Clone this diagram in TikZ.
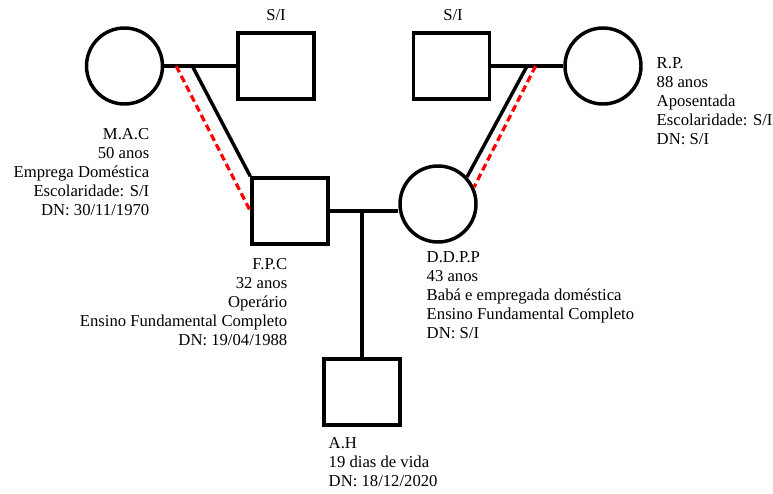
\documentclass[tikz,border=0pt]{standalone}
\usepackage{fontspec}
\setmainfont{Liberation Serif}
\usetikzlibrary{calc}
\begin{document}
\begin{tikzpicture}[x=0.75pt,y=-0.75pt,
  line width=2.6pt,
  male/.style={draw,rectangle,minimum width=57pt,minimum height=49.5pt,inner sep=0pt},
  female/.style={draw,circle,minimum size=57pt,inner sep=0pt},
  info/.style={inner sep=0pt,font=\fontsize{12.5}{14.1}\selectfont},
  conflict/.style={draw=red,line width=2.4pt,dash pattern=on 5.25pt off 3pt}]
\useasboundingbox (0,0) rectangle (773,493);

% grandparents, paternal side
\node[female] (mac) at (124.5,66) {};
\node[male] (si1) at (276,66) {};
% grandparents, maternal side
\node[male] (si2) at (451.5,66) {};
\node[female] (rp) at (603,66) {};
% parents
\node[male] (fpc) at (290,211) {};
\node[female] (ddpp) at (438,204) {};
% child
\node[male] (ah) at (362,392) {};

% couples and the child's line
\draw (mac.east) -- (si1.west);
\draw (si2.east) -- (rp.west);
\draw (fpc.east) -- (fpc.east -| ddpp.west);
\draw (ah.north) -- (ah.north |- fpc.east);

% points on the couple lines where the descent lines start
\coordinate (lpar) at ($(mac.east)!0.39!(si1.west)$);
\coordinate (lred) at ($(mac.east)!0.166!(si1.west)$);
\coordinate (rpar) at ($(si2.east)!0.497!(rp.west)$);
\coordinate (rred) at ($(si2.east)!0.616!(rp.west)$);

% descent lines
\draw (lpar) -- (fpc.north west);
\draw (rpar) -- (ddpp.43);

% conflictual relationships
\draw[conflict] (lred) -- (fpc.west);
\draw[conflict] (rred) -- (ddpp.25);

% labels (multi-line blocks are anchored on the baseline of their last line)
\node[info,anchor=base] (si1lab) at (276,20) {S/I};
\node[info,anchor=base] (si2lab) at (453,20) {S/I};
\node[info,anchor=base east,align=right] (maclab) at (151,215)
  {M.A.C\\50 anos\\Emprega Doméstica\\Escolaridade: S/I\\DN: 30/11/1970};
\node[info,anchor=base west,align=left] (rplab) at (655,144)
  {R.P.\\88 anos\\Aposentada\\Escolaridade: S/I\\DN: S/I};
\node[info,anchor=base east,align=right] (fpclab) at (289,345)
  {F.P.C\\32 anos\\Operário\\Ensino Fundamental Completo\\DN: 19/04/1988};
\node[info,anchor=base west,align=left] (ddpplab) at (425,338)
  {D.D.P.P\\43 anos\\Babá e empregada doméstica\\Ensino Fundamental Completo\\DN: S/I};
\node[info,anchor=base west,align=left] (ahlab) at (327,486)
  {A.H\\19 dias de vida\\DN: 18/12/2020};
\end{tikzpicture}
\end{document}
